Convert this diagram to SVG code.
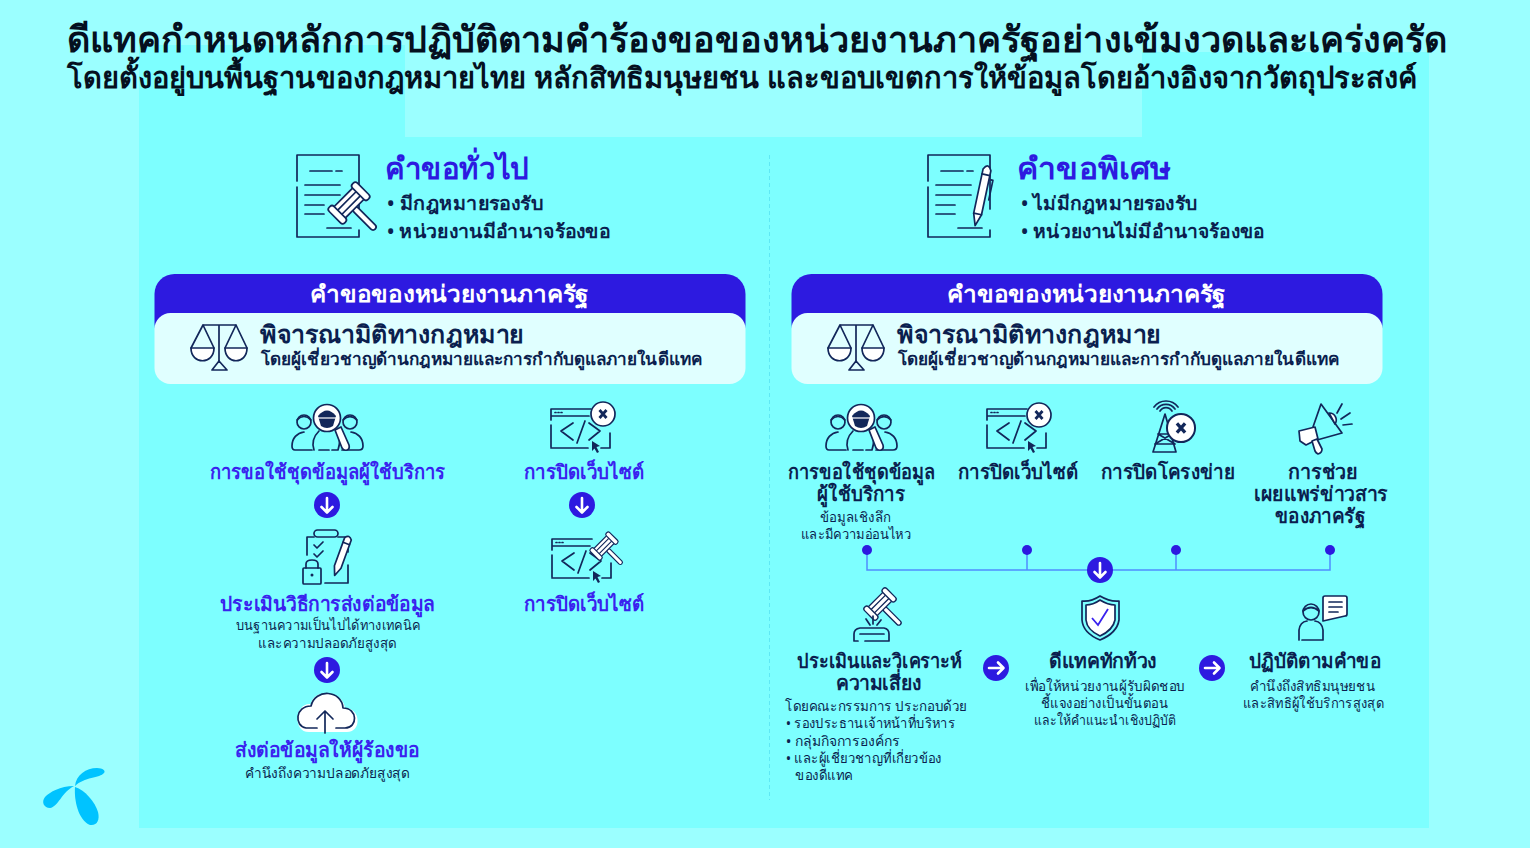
<svg xmlns="http://www.w3.org/2000/svg" xmlns:xlink="http://www.w3.org/1999/xlink" width="1530" height="848" viewBox="0 0 1530 848">
<style>
text{font-family:"Noto Sans","Open Sans","DejaVu Sans",sans-serif;fill:#0b1f4f}
.t1{font-size:36px;font-weight:700;fill:#05101f}
.t2{font-size:29px;font-weight:700;fill:#05101f}
.h{font-size:30px;font-weight:700;fill:#2d1ae0}
.b{font-size:19px;font-weight:600}
.w{font-size:23px;font-weight:700;fill:#fff}
.l{font-size:24px;font-weight:700}
.s17{font-size:17px;font-weight:600}
.p{font-size:20px;font-weight:600;fill:#3a22ee}
.n{font-size:20px;font-weight:600}
.s{font-size:14px;font-weight:500}
.ic{fill:none;stroke:#12275a;stroke-width:1.700;stroke-linecap:round;stroke-linejoin:round}
.wf{fill:#fff;stroke:#12275a;stroke-width:1.700;stroke-linejoin:round}
.dk{fill:#12275a;stroke:none}
.con{fill:none;stroke:#4f8dff;stroke-width:1.500}
.dot{fill:#2d1ae0}
.circ{fill:#2d1ae0}
.ar{fill:none;stroke:#fff;stroke-width:2.600;stroke-linecap:round;stroke-linejoin:round}
</style>
<defs>
<g id="gavel"><rect class="wf" x="7" y="-3" width="30" height="6" rx="3"/><rect class="wf" x="-8" y="-14" width="16" height="28"/><path class="ic" d="M-3,-14V14M3,-14V14"/><rect class="wf" x="-11" y="-20" width="22" height="7" rx="3"/><rect class="wf" x="-11" y="13" width="22" height="7" rx="3"/></g>
<g id="doc" class="ic"><path d="M0,27V1H62V55M62,76V83H0V33"/><path d="M13,17H35M39,17H45M8,31H43M8,41H43M8,51H27M8,60H27M30,74H54"/></g>
<g id="down"><circle class="circ" r="13"/><path class="ar" d="M0,-7V7M-5.500,2L0,7.500L5.500,2"/></g>
<g id="right"><circle class="circ" r="13"/><path class="ar" d="M-7,0H7M2,-5.500L7.500,0L2,5.500"/></g>
<g id="xbadge"><circle class="wf" r="12"/><path d="M-3.500,-4L3.500,4M3.500,-4L-3.500,4" fill="none" stroke="#12275a" stroke-width="2.800"/></g>
<g id="browser"><g class="ic"><path d="M0,39V17M0,12V1H40M0,8H38M22,15L10,23L22,32M26,35L34,13M38,15L49,23L38,32M0,40H37M50,40H59V25"/><path d="M4,4.500H5M7,4.500H8M10,4.500H11"/></g><path class="dk" d="M41,33L49,38L45.500,39L48,44L46,45L43.500,40.500L41,43Z"/></g>
<g id="people"><g class="ic"><circle cx="12" cy="19" r="7"/><path d="M5,17Q12,10 19,17"/><circle cx="58" cy="19" r="7"/><path d="M51,17Q58,10 65,17"/><path d="M20,47H3Q0,47 0,43C0,35 5,30 12,29M50,47H67Q71,47 71,43C71,35 66,30 59,29"/><path d="M22,47C19,38 23,32 27,28M27,47H37M40,47H46C49,38 48,33 44,28"/></g><path class="wf" d="M43,27L49,24L57,42Q58,46 55,47Q52,48 50,45Z"/><circle class="wf" cx="35" cy="15" r="13.500"/><path class="dk" d="M26,13Q35,2 44,13L41,23Q35,27 29,23Z"/><path d="M26,15H44" stroke="#fff" stroke-width="1.200"/></g>
<g id="scales"><g class="ic"><path d="M203,325H236M219,325V361M203,325L191,348M203,325L214,348M236,325L225,348M236,325L247,348"/><path class="wf" d="M191,348H214C214,365 191,365 191,348Z"/><path class="wf" d="M225,348H247C247,365 225,365 225,348Z"/><path d="M212,370L219,361L227,370Z"/></g></g>
</defs>

<rect width="1530" height="848" fill="#9bffff"/>
<path d="M139,45H405V137H1142V52H1429V828H139Z" fill="#7dffff"/>

<g id="title">
<text class="t1" x="67" y="52" textLength="1380" lengthAdjust="spacingAndGlyphs">ดีแทคกำหนดหลักการปฏิบัติตามคำร้องขอของหน่วยงานภาครัฐอย่างเข้มงวดและเคร่งครัด</text>
<text class="t2" x="67" y="88" textLength="1350" lengthAdjust="spacingAndGlyphs">โดยตั้งอยู่บนพื้นฐานของกฎหมายไทย หลักสิทธิมนุษยชน และขอบเขตการให้ข้อมูลโดยอ้างอิงจากวัตถุประสงค์</text>
</g>

<g id="logo" fill="#00c3ff">
<path d="M75,786C76,775 86,768 97,768C103,768 106,771 104,773C100,778 84,777 75,786Z"/>
<path d="M74,786C60,786 50,792 45,797C41,802 44,808 50,808C58,807 62,792 74,786Z"/>
<path d="M75,787C74,800 78,820 90,825C97,826 100,820 98,812C95,802 85,790 75,787Z"/>
</g>

<path id="divider" d="M769.500,155V800" stroke="#5fe8f4" stroke-width="1" stroke-dasharray="4 3" fill="none"/>

<g id="general-request">
<use href="#doc" xlink:href="#doc" x="297" y="154"/>
<use href="#gavel" xlink:href="#gavel" transform="translate(349,203) rotate(45)"/>
<text class="h" x="385" y="178.500" textLength="144" lengthAdjust="spacingAndGlyphs">คำขอทั่วไป</text>
<text class="b" x="387" y="210" textLength="156" lengthAdjust="spacingAndGlyphs">• มีกฎหมายรองรับ</text>
<text class="b" x="387" y="238" textLength="223" lengthAdjust="spacingAndGlyphs">• หน่วยงานมีอำนาจร้องขอ</text>
</g>

<g id="special-request">
<use href="#doc" xlink:href="#doc" x="928" y="154"/>
<g transform="translate(988,165) rotate(12)"><path class="wf" d="M-4,5Q0,-3 4,5V50L0,62L-4,50Z"/><path class="ic" d="M-4,10H4M-4,50H4"/><path class="ic" d="M6,14H8V34"/></g>
<text class="h" x="1017" y="178.500" textLength="154" lengthAdjust="spacingAndGlyphs">คำขอพิเศษ</text>
<text class="b" x="1021" y="210" textLength="176" lengthAdjust="spacingAndGlyphs">• ไม่มีกฎหมายรองรับ</text>
<text class="b" x="1021" y="238" textLength="243" lengthAdjust="spacingAndGlyphs">• หน่วยงานไม่มีอำนาจร้องขอ</text>
</g>

<g id="card-left">
<rect x="154.500" y="274" width="591" height="70" rx="20" fill="#2d1ae0"/>
<rect x="154.500" y="313" width="591" height="71" rx="16" fill="#e0ffff"/>
<text class="w" x="310" y="302" textLength="279" lengthAdjust="spacingAndGlyphs">คำขอของหน่วยงานภาครัฐ</text>
<use href="#scales" xlink:href="#scales"/>
<text class="l" x="260" y="343" textLength="264" lengthAdjust="spacingAndGlyphs">พิจารณามิติทางกฎหมาย</text>
<text class="s17" x="261" y="365" textLength="441" lengthAdjust="spacingAndGlyphs">โดยผู้เชี่ยวชาญด้านกฎหมายและการกำกับดูแลภายในดีแทค</text>
</g>

<g id="card-right">
<rect x="791.500" y="274" width="591" height="70" rx="20" fill="#2d1ae0"/>
<rect x="791.500" y="313" width="591" height="71" rx="16" fill="#e0ffff"/>
<text class="w" x="947" y="302" textLength="279" lengthAdjust="spacingAndGlyphs">คำขอของหน่วยงานภาครัฐ</text>
<use href="#scales" xlink:href="#scales" x="637"/>
<text class="l" x="897" y="343" textLength="264" lengthAdjust="spacingAndGlyphs">พิจารณามิติทางกฎหมาย</text>
<text class="s17" x="898" y="365" textLength="441" lengthAdjust="spacingAndGlyphs">โดยผู้เชี่ยวชาญด้านกฎหมายและการกำกับดูแลภายในดีแทค</text>
</g>

<g id="l-data-request">
<use href="#people" xlink:href="#people" x="292" y="403"/>
<text class="p" x="210" y="479" textLength="235" lengthAdjust="spacingAndGlyphs">การขอใช้ชุดข้อมูลผู้ใช้บริการ</text>
</g>
<g id="l-site-close">
<use href="#browser" xlink:href="#browser" x="551" y="408"/>
<use href="#xbadge" xlink:href="#xbadge" x="603" y="414"/>
<text class="p" x="524" y="479" textLength="120" lengthAdjust="spacingAndGlyphs">การปิดเว็บไซต์</text>
</g>
<g id="l-assess">
<g class="ic"><path d="M307,555V537H314M338,537H348V552M348,565V583H325"/><rect x="314" y="530" width="24" height="7" rx="3.500"/><path d="M314,545L317,548L323,542M314,554L317,557L323,551"/><path d="M306,568V564Q306,560 312,560Q318,560 318,564V568"/><rect x="303" y="568" width="18" height="16" rx="1"/></g>
<circle class="dk" cx="312" cy="575" r="1.500"/>
<g transform="translate(349,536) rotate(20)"><path class="wf" d="M-3.500,3Q0,-2 3.500,3V33L0,42L-3.500,33Z"/><path class="ic" d="M-3.500,8H3.500"/></g>
<text class="p" x="220" y="611" textLength="215" lengthAdjust="spacingAndGlyphs">ประเมินวิธีการส่งต่อข้อมูล</text>
<text class="s" x="236" y="630" textLength="184" lengthAdjust="spacingAndGlyphs">บนฐานความเป็นไปได้ทางเทคนิค</text>
<text class="s" x="258" y="648" textLength="139" lengthAdjust="spacingAndGlyphs">และความปลอดภัยสูงสุด</text>
</g>
<g id="l-site-close-2">
<use href="#browser" xlink:href="#browser" x="552" y="538"/>
<use href="#gavel" xlink:href="#gavel" transform="translate(604,546) rotate(45) scale(.68)"/>
<text class="p" x="524" y="611" textLength="120" lengthAdjust="spacingAndGlyphs">การปิดเว็บไซต์</text>
</g>
<g id="l-forward">
<path d="M309,732H347C362,732 361,708 345,708C343,690 313,688 311,704C295,702 292,732 309,732Z" fill="#fff"/>
<path class="ic" d="M317,728H306C294,726 295,706 311,706C315,688 342,690 343,708C358,708 358,728 345,728H336M325,733V712M317,719L325,711L333,719"/>
<text class="p" x="235" y="757" textLength="185" lengthAdjust="spacingAndGlyphs">ส่งต่อข้อมูลให้ผู้ร้องขอ</text>
<text class="s" x="245" y="778" textLength="165" lengthAdjust="spacingAndGlyphs">คำนึงถึงความปลอดภัยสูงสุด</text>
</g>

<g id="r-data-request">
<use href="#people" xlink:href="#people" x="826" y="403"/>
<text class="n" x="788" y="479" textLength="147" lengthAdjust="spacingAndGlyphs">การขอใช้ชุดข้อมูล</text>
<text class="n" x="817" y="501" textLength="88" lengthAdjust="spacingAndGlyphs">ผู้ใช้บริการ</text>
<text class="s" x="820" y="522" textLength="71" lengthAdjust="spacingAndGlyphs">ข้อมูลเชิงลึก</text>
<text class="s" x="801" y="539" textLength="110" lengthAdjust="spacingAndGlyphs">และมีความอ่อนไหว</text>
</g>
<g id="r-site-close">
<use href="#browser" xlink:href="#browser" x="987" y="408"/>
<use href="#xbadge" xlink:href="#xbadge" x="1039" y="415"/>
<text class="n" x="958" y="479" textLength="120" lengthAdjust="spacingAndGlyphs">การปิดเว็บไซต์</text>
</g>
<g id="r-network-close">
<g class="ic"><path d="M1153,452L1165,414L1176,452Z"/><path d="M1158,434H1172M1155,444H1175M1158,434L1175,444M1172,434L1155,444"/><path d="M1160,411A7,7 0 0 1 1172,411M1157,409A11,11 0 0 1 1175,409M1154,407A15,15 0 0 1 1178,407"/></g>
<use href="#xbadge" xlink:href="#xbadge" transform="translate(1181,428) scale(1.170)"/>
<text class="n" x="1101" y="479" textLength="134" lengthAdjust="spacingAndGlyphs">การปิดโครงข่าย</text>
</g>
<g id="r-publicise">
<path class="ic" d="M1313,427L1321,404L1342,433L1317,440"/>
<path class="wf" d="M1329,413A7,7 0 0 1 1335,424Z"/>
<path class="wf" d="M1299,431L1315,427L1318,439L1306,445L1300,441Z"/>
<path class="wf" d="M1312,441L1317,439L1322,449Q1322,453 1318,454Q1316,453 1315,451Z"/>
<path class="ic" d="M1337,413L1342,404M1341,419L1350,413M1343,425L1352,424"/>
<text class="n" x="1288" y="479" textLength="70" lengthAdjust="spacingAndGlyphs">การช่วย</text>
<text class="n" x="1254" y="501" textLength="134" lengthAdjust="spacingAndGlyphs">เผยแพร่ข่าวสาร</text>
<text class="n" x="1275" y="523" textLength="90" lengthAdjust="spacingAndGlyphs">ของภาครัฐ</text>
</g>

<g id="connectors">
<path class="con" d="M867,550V570H1330V550M1027,550V570M1176,550V570"/>
<circle class="dot" cx="867" cy="550" r="5"/><circle class="dot" cx="1027" cy="550" r="5"/><circle class="dot" cx="1176" cy="550" r="5"/><circle class="dot" cx="1330" cy="550" r="5"/>
<use href="#down" xlink:href="#down" x="1100" y="570"/>
<use href="#down" xlink:href="#down" x="327" y="505"/>
<use href="#down" xlink:href="#down" x="582" y="505"/>
<use href="#down" xlink:href="#down" x="327" y="670"/>
<use href="#right" xlink:href="#right" x="996" y="668"/>
<use href="#right" xlink:href="#right" x="1212" y="668"/>
</g>

<g id="r-risk">
<use href="#gavel" xlink:href="#gavel" transform="translate(880,604) rotate(45) scale(.78)"/>
<g class="ic"><path d="M858,641H854V634Q854,629 860,628H884Q889,629 889,634V641H865M860,634H884M866,619L870,625M873,616V624M881,620L877,625"/></g>
<text class="n" x="797" y="668" textLength="165" lengthAdjust="spacingAndGlyphs">ประเมินและวิเคราะห์</text>
<text class="n" x="836" y="690" textLength="86" lengthAdjust="spacingAndGlyphs">ความเสี่ยง</text>
<text class="s" x="785" y="711" textLength="182" lengthAdjust="spacingAndGlyphs">โดยคณะกรรมการ ประกอบด้วย</text>
<text class="s" x="786" y="728" textLength="169" lengthAdjust="spacingAndGlyphs">• รองประธานเจ้าหน้าที่บริหาร</text>
<text class="s" x="786" y="746" textLength="114" lengthAdjust="spacingAndGlyphs">• กลุ่มกิจการองค์กร</text>
<text class="s" x="786" y="763" textLength="156" lengthAdjust="spacingAndGlyphs">• และผู้เชี่ยวชาญที่เกี่ยวข้อง</text>
<text class="s" x="795" y="780" textLength="58" lengthAdjust="spacingAndGlyphs">ของดีแทค</text>
</g>
<g id="r-object">
<path class="ic" d="M1100,596Q1110,602 1119,601V620Q1117,633 1100,640Q1083,633 1082,620V601Q1091,602 1100,596Z"/>
<path class="wf" d="M1100,600Q1108,605 1115,605V620Q1113,630 1100,636Q1087,630 1086,620V605Q1093,605 1100,600Z"/>
<path d="M1092,618L1098,625L1108,609" fill="none" stroke="#3a22ee" stroke-width="1.800"/>
<text class="n" x="1049" y="668" textLength="108" lengthAdjust="spacingAndGlyphs">ดีแทคทักท้วง</text>
<text class="s" x="1025" y="691" textLength="160" lengthAdjust="spacingAndGlyphs">เพื่อให้หน่วยงานผู้รับผิดชอบ</text>
<text class="s" x="1041" y="708" textLength="127" lengthAdjust="spacingAndGlyphs">ชี้แจงอย่างเป็นขั้นตอน</text>
<text class="s" x="1034" y="725" textLength="142" lengthAdjust="spacingAndGlyphs">และให้คำแนะนำเชิงปฏิบัติ</text>
</g>
<g id="r-comply">
<g class="ic"><circle cx="1311" cy="612" r="8"/><path d="M1303,611Q1311,604 1319,611"/><path d="M1299,640V630Q1300,622 1307,621M1315,621Q1322,622 1323,630V640H1302"/></g>
<path class="wf" d="M1325,596H1345Q1347,596 1347,598V614Q1347,616 1345,616L1323,621V598Q1323,596 1325,596Z"/>
<path class="ic" d="M1329,602H1342M1329,607H1342M1329,612H1338"/>
<text class="n" x="1249" y="668" textLength="132" lengthAdjust="spacingAndGlyphs">ปฏิบัติตามคำขอ</text>
<text class="s" x="1250" y="691" textLength="125" lengthAdjust="spacingAndGlyphs">คำนึงถึงสิทธิมนุษยชน</text>
<text class="s" x="1243" y="708" textLength="141" lengthAdjust="spacingAndGlyphs">และสิทธิผู้ใช้บริการสูงสุด</text>
</g>
</svg>
